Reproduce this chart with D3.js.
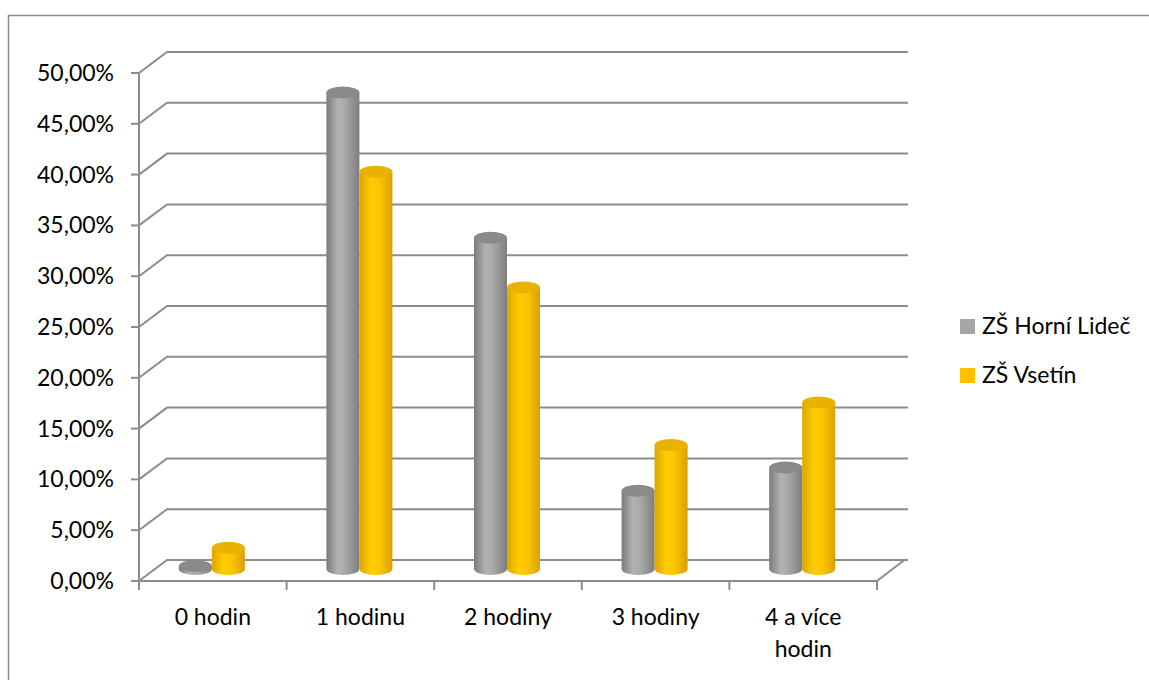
<!DOCTYPE html>
<html>
<head>
<meta charset="utf-8">
<script src="https://cdn.jsdelivr.net/npm/d3@7"></script>
<style>
  html, body { margin: 0; padding: 0; background: #fff; }
  svg { display: block; font-family: Lato, "Open Sans", sans-serif; }
</style>
</head>
<body>
<svg id="chart" width="1149" height="680"></svg>
<script>
// Data
const categories = ["0 hodin", "1 hodinu", "2 hodiny", "3 hodiny", "4 a více hodin"];
const seriesNames = ["ZŠ Horní Lideč", "ZŠ Vsetín"];
const horniLidec = [0.3, 46.9, 32.6, 7.7, 10.0];
const vsetin = [2.1, 39.1, 27.7, 12.2, 16.4];
const yTicks = [0, 5, 10, 15, 20, 25, 30, 35, 40, 45, 50];
const seriesColors = ["gray", "gold"];

(function draw() {
  const svg = d3.select("#chart");
  const fmt = v => v.toFixed(2).replace(".", ",") + "%";
  const fontSize = 23;

  // Layout of the 3D frame
  const plotLeft = 139, plotRight = 877, plotTop = 73, floorY = 581;
  const depthX = 28, depthY = 21;
  const gridColor = "#8c8c8c";

  // Outer chart border
  svg.append("rect").attr("x", 8.5).attr("y", 15.5).attr("width", 1160).attr("height", 700)
    .attr("fill", "none").attr("stroke", "#8c8c8c").attr("stroke-width", 1.5);

  const x = d3.scaleBand().domain(categories).range([plotLeft, plotRight]);
  const y = d3.scaleLinear().domain([0, 50]).range([floorY, plotTop]);
  // Bars sit part-way into the depth of the floor
  const barBase = 569;
  const yBar = d3.scaleLinear().domain([0, 50]).range([barBase, barBase - (floorY - plotTop)]);

  const g = svg.append("g");

  // Gridlines: left wall diagonal + back wall horizontal
  yTicks.forEach(t => {
    const yf = y(t);
    g.append("path")
      .attr("d", `M${plotLeft},${yf} L${plotLeft + depthX},${yf - depthY} L908,${yf - depthY}`)
      .attr("fill", "none").attr("stroke", gridColor).attr("stroke-width", 2);
    g.append("line").attr("x1", plotLeft - 8).attr("x2", plotLeft).attr("y1", yf).attr("y2", yf)
      .attr("stroke", gridColor).attr("stroke-width", 2);
    g.append("text").attr("x", 114).attr("y", yf + 8).attr("text-anchor", "end")
      .attr("font-size", fontSize).attr("fill", "#000").text(fmt(t));
  });

  // Floor right edge
  g.append("path")
    .attr("d", `M${plotRight},${floorY} L${plotRight + depthX},${floorY - depthY - 0.5}`)
    .attr("fill", "none").attr("stroke", gridColor).attr("stroke-width", 2);
  // Front floor edge
  g.append("line").attr("x1", plotLeft).attr("x2", plotRight).attr("y1", floorY).attr("y2", floorY)
    .attr("stroke", gridColor).attr("stroke-width", 2);
  // Vertical axis line
  g.append("line").attr("x1", plotLeft).attr("x2", plotLeft).attr("y1", plotTop).attr("y2", floorY + 9)
    .attr("stroke", gridColor).attr("stroke-width", 2);
  // Category ticks
  categories.forEach(c => {
    const xx = x(c) + x.bandwidth();
    g.append("line").attr("x1", xx).attr("x2", xx).attr("y1", floorY).attr("y2", floorY + 9)
      .attr("stroke", gridColor).attr("stroke-width", 2);
  });

  // Category labels (wrapped)
  const catLines = {"4 a více hodin": ["4 a více", "hodin"]};
  categories.forEach(c => {
    const lines = catLines[c] || [c];
    const t = g.append("text").attr("text-anchor", "middle").attr("font-size", fontSize).attr("fill", "#000");
    lines.forEach((ln, k) => {
      t.append("tspan").attr("x", x(c) + x.bandwidth() / 2).attr("y", 625 + k * 32).text(ln);
    });
  });

  // Gradients for cylinders
  const defs = svg.append("defs");
  const grads = {
    gray: { stops: [["0%", "#7b7b7b"], ["35%", "#b2b2b2"], ["55%", "#aaaaaa"], ["100%", "#7e7e7e"]], cap: "#8a8a8a" },
    gold: { stops: [["0%", "#dca600"], ["35%", "#ffcc00"], ["60%", "#fcc600"], ["100%", "#d9a000"]], cap: "#e9b200" }
  };
  Object.entries(grads).forEach(([k, v]) => {
    const lg = defs.append("linearGradient").attr("id", "g-" + k)
      .attr("x1", "0").attr("x2", "1").attr("y1", "0").attr("y2", "0");
    v.stops.forEach(s => lg.append("stop").attr("offset", s[0]).attr("stop-color", s[1]));
  });

  const inner = d3.scaleBand().domain(seriesNames).range([0, 66]);
  const rx = inner.bandwidth() / 2, ry = 6;
  const seriesData = [horniLidec, vsetin];

  seriesNames.forEach((s, si) => {
    const key = seriesColors[si];
    categories.forEach((c, ci) => {
      const v = seriesData[si][ci];
      const xl = x(c) + x.bandwidth() / 2 - 1 - 33 + inner(s);
      const xr = xl + inner.bandwidth();
      const yt = yBar(v), yb = barBase;
      const bar = g.append("g");
      bar.append("path")
        .attr("d", `M${xl},${yt} L${xl},${yb} A${rx},${ry} 0 0 0 ${xr},${yb} L${xr},${yt} Z`)
        .attr("fill", `url(#g-${key})`);
      bar.append("ellipse").attr("cx", xl + rx).attr("cy", yt).attr("rx", rx).attr("ry", ry)
        .attr("fill", grads[key].cap);
    });
  });

  // Legend
  const legendFill = ["#a6a6a6", "#ffc000"];
  seriesNames.forEach((s, i) => {
    const ly = 319 + i * 49;
    svg.append("rect").attr("x", 960).attr("y", ly).attr("width", 15).attr("height", 15).attr("fill", legendFill[i]);
    svg.append("text").attr("x", 982).attr("y", ly + 15).attr("font-size", fontSize).attr("fill", "#000").text(s);
  });
})();
</script>
</body>
</html>
